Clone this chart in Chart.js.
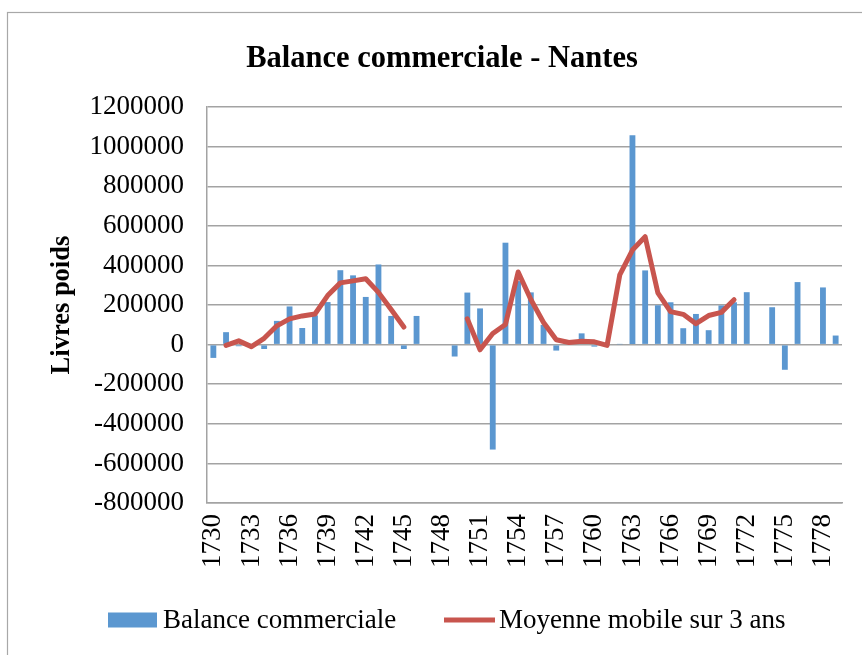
<!DOCTYPE html>
<html>
<head>
<meta charset="utf-8">
<script src="https://cdn.jsdelivr.net/npm/chart.js@4.4.1/dist/chart.umd.min.js"></script>
<style>
  html, body { margin: 0; padding: 0; background: #ffffff; }
  #box { width: 862px; height: 655px; }
</style>
</head>
<body>
<div id="box"><canvas id="chart" width="862" height="655"></canvas></div>
<script>
// Years of the series (1747, 1748, 1773 and 1777 have no recorded balance)
const years = [
  '1730','1731','1732','1733','1734','1735','1736','1737','1738','1739',
  '1740','1741','1742','1743','1744','1745','1746','1747','1748','1749',
  '1750','1751','1752','1753','1754','1755','1756','1757','1758','1759',
  '1760','1761','1762','1763','1764','1765','1766','1767','1768','1769',
  '1770','1771','1772','1773','1774','1775','1776','1777','1778','1779'
];

// Trade balance, livres poids
const balance = [
  -67000, 63000, -8000, 2000, -22000, 120000, 193000, 84000, 148000, 215000,
  376000, 350000, 241000, 405000, 145000, -22000, 145000, null, null, -60000,
  263000, 183000, -530000, 515000, 321000, 264000, 100000, -30000, 5000, 57000,
  -10000, -4000, 2000, 1058000, 375000, 199000, 214000, 83000, 155000, 73000,
  198000, 214000, 265000, null, 189000, -127000, 316000, null, 289000, 46000
];

// Centred 3-year moving average
const movingAverage = [
  null, -4000, 19000, -10000, 32000, 95000, 130000, 145000, 155000, 248000,
  312000, 322000, 333000, 264000, 177000, 89000, null, null, null, null,
  130000, -26000, 56000, 102000, 367000, 228000, 112000, 25000, 11000, 17000,
  14000, -4000, 352000, 478000, 545000, 262000, 167000, 153000, 106000, 147000,
  163000, 227000, null, null, null, null, null, null, null, null
];

// Years shown under the axis
const tickYears = ['1730','1733','1736','1739','1742','1745','1748','1751','1754',
                   '1757','1760','1763','1766','1769','1772','1775','1778'];

const seriesNames = ['Balance commerciale', 'Moyenne mobile sur 3 ans'];
const BLUE = '#5b97d0';
const RED = '#c8554e';
const GRID = '#a3a3a3';
const SERIF = "'Liberation Serif', 'Times New Roman', serif";

// White page with a thin grey frame around the chart object
const framePlugin = {
  id: 'frame',
  beforeDraw(chart) {
    const ctx = chart.ctx;
    ctx.save();
    ctx.fillStyle = '#ffffff';
    ctx.fillRect(0, 0, chart.width, chart.height);
    ctx.strokeStyle = '#a8a8a8';
    ctx.lineWidth = 1.2;
    ctx.strokeRect(7.5, 12.5, 900, 700);
    ctx.restore();
  }
};

// Legend row under the axis labels
const legendRowPlugin = {
  id: 'legendRow',
  afterDraw(chart) {
    const ctx = chart.ctx;
    const y = 620;
    ctx.save();
    ctx.font = '27px ' + SERIF;
    ctx.textBaseline = 'middle';
    ctx.fillStyle = BLUE;
    ctx.fillRect(108, y - 7.5, 49, 15);
    ctx.fillStyle = '#000000';
    ctx.fillText(seriesNames[0], 163, y + 1);
    ctx.strokeStyle = RED;
    ctx.lineWidth = 5;
    ctx.beginPath();
    ctx.moveTo(444, y);
    ctx.lineTo(495, y);
    ctx.stroke();
    ctx.fillText(seriesNames[1], 499, y + 1);
    ctx.restore();
  }
};

new Chart(document.getElementById('chart'), {
  type: 'bar',
  data: {
    labels: years,
    datasets: [
      {
        type: 'line',
        label: seriesNames[1],
        data: movingAverage,
        borderColor: RED,
        backgroundColor: RED,
        borderWidth: 5,
        pointRadius: 0,
        tension: 0,
        spanGaps: false,
        borderJoinStyle: 'round',
        borderCapStyle: 'round',
        order: 0
      },
      {
        type: 'bar',
        label: seriesNames[0],
        data: balance,
        backgroundColor: BLUE,
        borderWidth: 0,
        categoryPercentage: 1,
        barPercentage: 0.46,
        order: 1
      }
    ]
  },
  options: {
    responsive: false,
    animation: false,
    devicePixelRatio: 1,
    layout: { padding: { left: 42, right: 20, top: 0, bottom: 0 } },
    plugins: {
      legend: { display: false },
      tooltip: { enabled: false },
      title: {
        display: true,
        text: 'Balance commerciale - Nantes',
        color: '#000000',
        font: { family: SERIF, size: 30.5, weight: 'bold' },
        padding: { top: 40.5, bottom: 30 }
      }
    },
    scales: {
      x: {
        offset: true,
        grid: { display: false, drawTicks: false },
        border: { display: true, color: GRID, width: 1.5 },
        afterFit(scale) {
          scale.height = 152;
          scale.paddingLeft = 0;
          scale.paddingRight = 0;
        },
        ticks: {
          autoSkip: false,
          maxRotation: 90,
          minRotation: 90,
          padding: 11,
          color: '#000000',
          font: { family: SERIF, size: 27 },
          callback(value, index) {
            const y = years[index];
            return tickYears.includes(y) ? y : '';
          }
        }
      },
      y: {
        min: -800000,
        max: 1200000,
        grid: { color: GRID, lineWidth: 1.5, drawTicks: false },
        border: { display: true, color: GRID, width: 1.5 },
        afterFit(scale) { scale.width = 165; },
        title: {
          display: true,
          text: 'Livres poids',
          color: '#000000',
          font: { family: SERIF, size: 26.5, weight: 'bold' },
          padding: { top: 4, bottom: 0 }
        },
        ticks: {
          stepSize: 200000,
          padding: 23,
          color: '#000000',
          font: { family: SERIF, size: 27 },
          callback(value) { return String(value); }
        }
      }
    }
  },
  plugins: [framePlugin, legendRowPlugin]
});
</script>
</body>
</html>
